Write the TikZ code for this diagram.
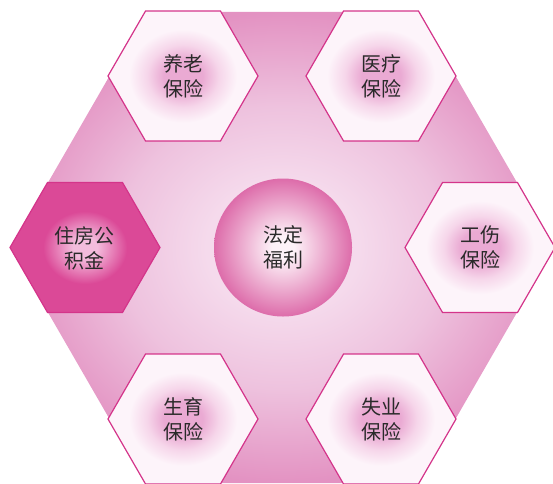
\documentclass[tikz,border=0pt]{standalone}
\usepackage{fontspec}
\newfontfamily\cjkfont{Noto Sans CJK SC}
\definecolor{bigin}{HTML}{F5DAEC}
\definecolor{bigmid}{HTML}{EEC2DE}
\definecolor{bigout}{HTML}{E392C2}
\definecolor{glowpink}{HTML}{EAAAD3}
\definecolor{glowmid}{HTML}{F6D6EA}
\definecolor{hexwhite}{HTML}{FDF4FA}
\definecolor{ballin}{HTML}{FDF2F8}
\definecolor{ballout}{HTML}{DD6CAA}
\definecolor{housein}{HTML}{F3BCDC}
\definecolor{houseout}{HTML}{DB4997}
\definecolor{hexborder}{HTML}{D4348A}
\definecolor{txt}{HTML}{2A2A2A}
% the central 50bp x 50bp square of a shading covers the path: 25bp = half size
\pgfdeclareradialshading{bigshade}{\pgfpoint{0bp}{0bp}}{color(0bp)=(bigin); color(7bp)=(bigin); color(15bp)=(bigmid); color(25bp)=(bigout); color(50bp)=(bigout)}
\pgfdeclareradialshading{hexglow}{\pgfpoint{0bp}{0bp}}{color(0bp)=(glowpink); color(6.5bp)=(glowpink); color(12bp)=(glowmid); color(18bp)=(hexwhite); color(50bp)=(hexwhite)}
\pgfdeclareradialshading{ballshade}{\pgfpoint{0bp}{0bp}}{color(0bp)=(ballin); color(4bp)=(ballin); color(25bp)=(ballout); color(50bp)=(ballout)}
\pgfdeclareradialshading{houseshade}{\pgfpoint{0bp}{0bp}}{color(0bp)=(housein); color(4bp)=(housein); color(14bp)=(houseout); color(50bp)=(houseout)}
\begin{document}
\begin{tikzpicture}[x=1pt,y=-1pt,
  hexline/.style={draw=hexborder, line width=1.2pt},
  lbl/.style={font=\cjkfont\fontsize{20}{25}\selectfont, text=txt, align=center, inner sep=0pt}]
\useasboundingbox (0,0) rectangle (553,483);
% big hexagon
\path[shade, shading=bigshade, shift={(282.5,247.5)}]
  (0:272) -- (60:272) -- (120:272) -- (180:272) -- (240:272) -- (300:272) -- cycle;
% centre ball
\path[shade, shading=ballshade] (283,247.5) circle[radius=69];
\node[lbl] (center) at (283,247) {法定\\福利};
% small hexagons
\foreach \cx/\cy/\nm in {183/76/yl, 381/76/yb, 480/247.5/gs, 183/419/sy, 381/419/sb}{
  \path[shade, shading=hexglow, hexline, shift={(\cx,\cy)}]
    (0:75) -- (60:75) -- (120:75) -- (180:75) -- (240:75) -- (300:75) -- cycle;
  \coordinate (\nm) at (\cx,\cy);
}
\path[shade, shading=houseshade, hexline, shift={(85,247.5)}]
  (0:75) -- (60:75) -- (120:75) -- (180:75) -- (240:75) -- (300:75) -- cycle;
\node[lbl] (t1) at (yl) {养老\\保险};
\node[lbl] (t2) at (yb) {医疗\\保险};
\node[lbl] (t3) at (gs) {工伤\\保险};
\node[lbl] (t4) at (sy) {生育\\保险};
\node[lbl] (t5) at (sb) {失业\\保险};
\node[lbl] (t6) at (84,248) {住房公\\积金};
\end{tikzpicture}
\end{document}
